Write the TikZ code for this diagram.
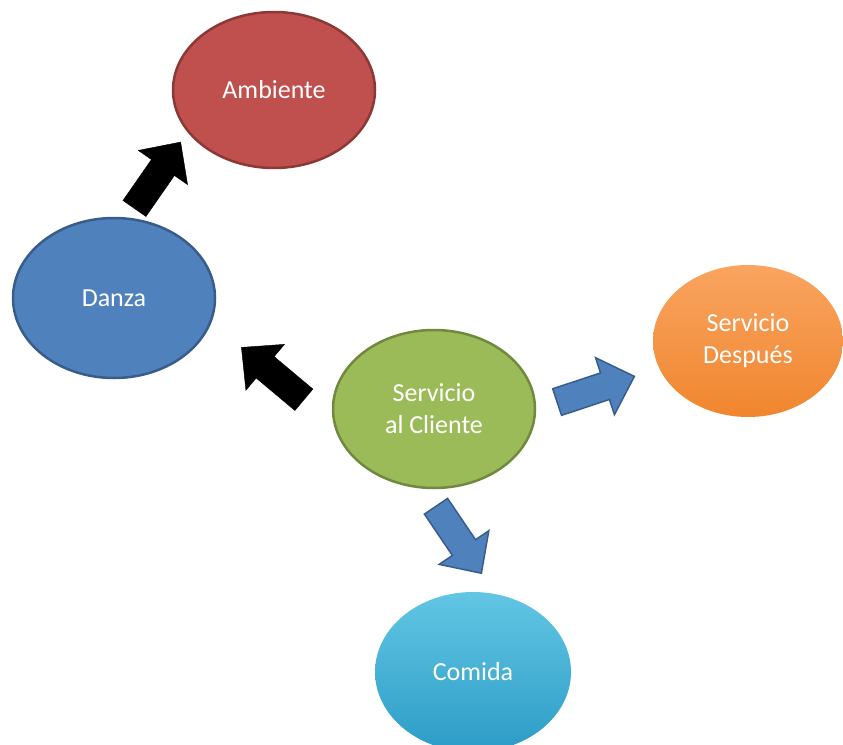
\documentclass[tikz,border=0pt]{standalone}
\usepackage{fontspec}
\setmainfont{Carlito}
\usepackage{tikz}
\usetikzlibrary{shapes.geometric}
\usetikzlibrary{calc}
\definecolor{rojo}{HTML}{C0504D}
\definecolor{rojoborde}{HTML}{8C3836}
\definecolor{azul}{HTML}{4F81BD}
\definecolor{azulborde}{HTML}{385D8A}
\definecolor{verde}{HTML}{9BBB59}
\definecolor{verdeborde}{HTML}{71893F}
\definecolor{naranjaclaro}{HTML}{F9A460}
\definecolor{naranja}{HTML}{F0862E}
\definecolor{cianclaro}{HTML}{62C6E4}
\definecolor{cian}{HTML}{2C9CC6}

\tikzset{
	bubble/.style={ellipse, inner sep=0pt, text=white, align=center,
		font=\fontsize{26}{32}\selectfont},
	flatbubble/.style={bubble, line width=2.5pt},
	blackarrow/.style={fill=black},
	bluearrow/.style={fill=azul, draw=azulborde, line width=1.5pt, line join=miter},
}

\begin{document}
\begin{tikzpicture}[x=1pt, y=-1pt]
	\useasboundingbox (0,0) rectangle (843,744);
	
	% The ellipses
	\node[flatbubble, fill=rojo, draw=rojoborde, minimum width=202pt, minimum height=156pt] (amb) at (274,90) {Ambiente};
	\node[flatbubble, fill=azul, draw=azulborde, minimum width=202pt, minimum height=160pt] (dan) at (114,298) {Danza};
	\node[flatbubble, fill=verde, draw=verdeborde, minimum width=202pt, minimum height=158pt] (ser) at (434,409) {Servicio\\al Cliente};
	\node[bubble, top color=naranjaclaro, bottom color=naranja, minimum width=190pt, minimum height=152pt] (des) at (748,341) {Servicio\\Después};
	\node[bubble, top color=cianclaro, bottom color=cian, minimum width=196pt, minimum height=160pt] (com) at (473,672) {Comida};
	
	% Block arrows: start anchor / end anchor / shorten start / shorten end / style
	\foreach \src/\dst/\ss/\se/\sty in {dan.80/amb.206/11pt/12pt/blackarrow,
		ser.189/dan.-14/39pt/39pt/blackarrow,
		ser.0/des.197/22pt/26pt/bluearrow,
		ser.263/com.74/21pt/25pt/bluearrow} {
		\coordinate (tail) at ($(\src)!\ss!(\dst)$);
		\coordinate (tip) at ($(\dst)!\se!(\src)$);
		\coordinate (neck) at ($(tip)!31pt!(tail)$);
		\draw[\sty] ($(tail)!14pt!90:(tip)$) -- ($(neck)!14pt!90:(tip)$)
			-- ($(neck)!30pt!90:(tip)$) -- (tip)
			-- ($(neck)!30pt!-90:(tip)$) -- ($(neck)!14pt!-90:(tip)$)
			-- ($(tail)!14pt!-90:(tip)$) -- cycle;
	}
	
\end{tikzpicture}
\end{document}
